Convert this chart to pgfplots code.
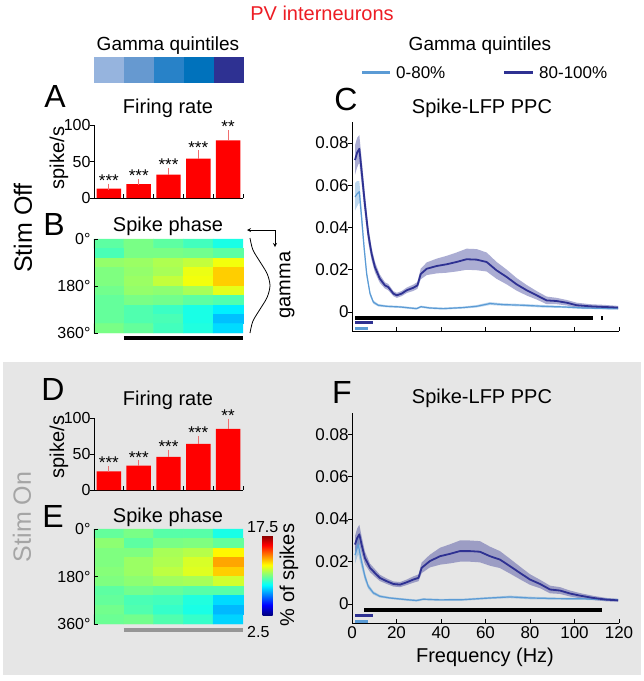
\documentclass[border=0pt]{standalone}
\usepackage{pgfplots}
\pgfplotsset{compat=1.18}
\usepackage{pgfplotstable}
\usepackage{fontspec}
\setmainfont{Liberation Sans}
\newcommand{\fs}[1]{\fontsize{#1}{#1}\selectfont}

\definecolor{darkb}{RGB}{46,49,146}
\definecolor{lightb}{RGB}{91,155,213}
\definecolor{q1}{RGB}{150,180,222}
\definecolor{q2}{RGB}{102,153,208}
\definecolor{q3}{RGB}{40,130,200}
\definecolor{q4}{RGB}{0,114,188}
\definecolor{q5}{RGB}{46,49,146}
\definecolor{pvred}{RGB}{237,28,36}
\definecolor{bgray}{RGB}{230,230,230}
\definecolor{errred}{RGB}{240,110,110}
\definecolor{sigray}{RGB}{150,150,150}
\definecolor{ongray}{RGB}{165,165,165}

\pgfplotstableread{
f v e
1.35 0.072 0.007
2.3 0.0755 0.007
3.3 0.0773 0.0065
4.3 0.067 0.006
5.8 0.051 0.005
7.3 0.037 0.004
8.8 0.0276 0.003
10.3 0.0213 0.0025
12.5 0.0158 0.002
14.8 0.0126 0.0015
16.3 0.0118 0.0015
18.6 0.0087 0.0012
20.1 0.0079 0.0012
22.3 0.0087 0.0012
24.6 0.0103 0.0013
27.6 0.0115 0.0015
29.4 0.0126 0.0016
30.9 0.018 0.0025
33.6 0.0205 0.003
38.1 0.0218 0.0035
42.5 0.0226 0.004
47.0 0.0237 0.0045
51.5 0.025 0.005
56.0 0.0248 0.005
60.5 0.0237 0.0045
65 0.0197 0.004
69.5 0.0166 0.0035
74 0.0131 0.003
78.5 0.0103 0.0025
83 0.0079 0.002
87.5 0.0055 0.0018
92 0.0052 0.0015
96.5 0.0044 0.0013
101 0.0032 0.0012
107 0.0027 0.001
113 0.0024 0.001
119.6 0.0021 0.0008
}\cdark

\pgfplotstableread{
f v e
1.35 0.0545 0.0065
2.3 0.056 0.006
3.3 0.057 0.005
4.3 0.045 0.004
5.4 0.031 0.003
6.6 0.018 0.002
8.1 0.0087 0.0012
9.6 0.0047 0.0008
11.8 0.0032 0.0006
15.6 0.0027 0.0005
21.6 0.0024 0.0005
29 0.0016 0.0005
31 0.0025 0.0005
33 0.0022 0.0005
35 0.0019 0.0005
41 0.0016 0.0005
50 0.0021 0.0005
56 0.0027 0.0006
62 0.0040 0.0007
68 0.0035 0.0006
77 0.0032 0.0006
86 0.0027 0.0006
95 0.0024 0.0005
104 0.0019 0.0005
119.6 0.0016 0.0005
}\clight

\pgfplotstableread{
f v e
1.35 0.028 0.004
2.3 0.031 0.0045
3.3 0.0328 0.0045
4.3 0.028 0.004
5.8 0.0217 0.003
8.1 0.017 0.002
10.3 0.0146 0.0018
12.5 0.0123 0.0015
15.6 0.0107 0.0013
18.6 0.0094 0.0012
21.6 0.0091 0.0012
24.6 0.0102 0.0013
27.6 0.0115 0.0015
29.9 0.0123 0.0016
31.3 0.017 0.0025
35 0.0202 0.003
39.6 0.0225 0.004
44 0.0236 0.0045
48.5 0.0249 0.005
53 0.0249 0.005
57.5 0.0246 0.005
62 0.0225 0.0045
66.5 0.0209 0.004
71 0.0178 0.0035
75.5 0.0146 0.003
80 0.0115 0.0025
84.5 0.0094 0.002
89 0.0068 0.0018
93.5 0.0063 0.0016
98 0.0049 0.0014
102.5 0.0039 0.0012
108.5 0.0028 0.001
114.5 0.002 0.0008
119.6 0.0017 0.0007
}\fdark

\pgfplotstableread{
f v e
1.35 0.023 0.004
2.8 0.028 0.0045
4.3 0.020 0.003
5.8 0.013 0.002
7.3 0.0083 0.0012
9.6 0.0052 0.0008
12.5 0.0036 0.0006
17 0.0028 0.0005
24.6 0.002 0.0005
29 0.0016 0.0005
32 0.0022 0.0005
39.6 0.0019 0.0005
50 0.002 0.0005
62 0.0028 0.0005
71 0.0033 0.0006
80 0.0028 0.0006
92 0.0025 0.0005
104 0.0024 0.0005
119.6 0.0019 0.0005
}\flight

% band polygons: upper edge forward, lower edge backward
\newcommand{\mkband}[3]{%
  \pgfplotstablesort[sort key=f, sort cmp=float >]{#3}{#1}%
  \pgfplotstablesort[sort key=f, sort cmp=float <]{#2}{#1}%
  \pgfplotstablecreatecol[expr={\thisrow{v}+\thisrow{e}}]{b}{#2}%
  \pgfplotstablecreatecol[expr={\thisrow{v}-\thisrow{e}}]{b}{#3}%
  \pgfplotstablevertcat{#2}{#3}}
\mkband{\cdark}{\cdarkband}{\cdarkrev}
\mkband{\clight}{\clightband}{\clightrev}
\mkband{\fdark}{\fdarkband}{\fdarkrev}
\mkband{\flight}{\flightband}{\flightrev}

\pgfplotstableread{
x y c
1 18 9.5
2 18 9.9
3 18 9.5
4 18 9.1
5 18 8.5
1 54 9.2
2 54 9.9
3 54 9.9
4 54 9.8
5 54 9.5
1 90 10.3
2 90 10.4
3 90 10.7
4 90 11.0
5 90 11.7
1 126 10.0
2 126 10.3
3 126 10.6
4 126 11.6
5 126 12.6
1 162 10.0
2 162 10.4
3 162 11.0
4 162 11.7
5 162 12.6
1 198 9.8
2 198 10.3
3 198 10.2
4 198 10.6
5 198 11.5
1 234 9.6
2 234 9.9
3 234 9.8
4 234 9.5
5 234 9.3
1 270 9.6
2 270 9.3
3 270 9.0
4 270 8.5
5 270 7.9
1 306 9.6
2 306 9.3
3 306 9.2
4 306 8.5
5 306 7.2
1 342 9.9
2 342 9.6
3 342 9.1
4 342 8.6
5 342 7.6
}\heatB

\pgfplotstableread{
x y c
1 18 9.6
2 18 9.9
3 18 9.4
4 18 9.4
5 18 8.5
1 54 10.2
2 54 9.5
3 54 9.9
4 54 10.0
5 54 9.6
1 90 10.0
2 90 10.0
3 90 10.6
4 90 10.8
5 90 12.0
1 126 10.0
2 126 10.4
3 126 10.7
4 126 11.3
5 126 13.2
1 162 10.1
2 162 10.4
3 162 10.9
4 162 11.4
5 162 12.6
1 198 10.0
2 198 10.2
3 198 10.5
4 198 10.6
5 198 11.2
1 234 9.5
2 234 9.8
3 234 9.6
4 234 9.4
5 234 9.4
1 270 9.6
2 270 9.2
3 270 9.1
4 270 8.6
5 270 7.6
1 306 9.8
2 306 9.3
3 306 8.9
4 306 8.5
5 306 7.1
1 342 9.7
2 342 9.8
3 342 9.3
4 342 8.9
5 342 7.5
}\heatE

\pgfplotsset{
  every axis/.append style={scale only axis, font=\fs{16},
    /pgf/number format/assume math mode=true, major tick length=4pt,
    tick style={black, line width=0.8pt}},
  barax/.style={xmin=0.5, xmax=5.5, ymin=0, ymax=100, width=149pt, height=73pt,
    axis x line=bottom, axis y line=left,
    x axis line style={-, line width=0.8pt}, y axis line style={-, line width=0.8pt},
    xtick={1.5,2.5,3.5,4.5,5.5}, xticklabels={}, ytick={0,50,100},
    tick align=inside, major y tick style={xshift=-4pt}, clip=false,
    yticklabel style={font=\fs{16}}},
  heatax/.style={xmin=0.5, xmax=5.5, ymin=0, ymax=360, y dir=reverse,
    axis x line=none, axis y line=left, y axis line style={-, line width=0.8pt},
    ytick={0,180,360}, yticklabels={0°,180°,360°}, tick align=inside,
    axis on top, colormap/jet, point meta min=2.5, point meta max=17.5,
    clip=false, width=149pt, yticklabel style={font=\fs{16}}},
  ppcax/.style={xmin=0, xmax=120, ymin=-0.009, ymax=0.09, width=267pt,
    axis x line=bottom, axis y line=left, scaled y ticks=false, scaled x ticks=false,
    x axis line style={-, line width=0.8pt}, y axis line style={-, line width=0.8pt},
    xtick={0,20,...,120}, ytick={0,0.02,0.04,0.06,0.08},
    yticklabels={0,0.02,0.04,0.06,0.08}, tick align=inside,
    major y tick style={xshift=-4pt},
    ticklabel style={font=\fs{17}}},
  errstyle/.style={ybar, bar width=0.82, fill=red, draw=none,
    error bars/.cd, y dir=plus, y explicit,
    error bar style={errred, line width=0.9pt},
    error mark options={errred, mark size=3pt, line width=0.9pt}},
}

\begin{document}
\begin{tikzpicture}
\path (0,0) rectangle (644pt,-681pt);
\fill[bgray] (3pt,-362pt) rectangle (641pt,-675pt);

% header
\node[anchor=base, font=\fs{20}, text=pvred] at (322pt,-20pt) {PV interneurons};
\node[anchor=base, font=\fs{19}] at (168pt,-50pt) {Gamma quintiles};
\node[anchor=base, font=\fs{19}] at (480pt,-50pt) {Gamma quintiles};
\fill[q1] (94pt,-57pt) rectangle (124pt,-83pt);
\fill[q2] (124pt,-57pt) rectangle (154pt,-83pt);
\fill[q3] (154pt,-57pt) rectangle (184pt,-83pt);
\fill[q4] (184pt,-57pt) rectangle (214pt,-83pt);
\fill[q5] (214pt,-57pt) rectangle (244pt,-83pt);
\draw[lightb, line width=3pt] (362pt,-72pt) -- (390pt,-72pt);
\node[anchor=base west, font=\fs{17}, inner sep=0pt] at (396pt,-78pt) {0-80\%};
\draw[darkb, line width=3pt] (504pt,-72pt) -- (533pt,-72pt);
\node[anchor=base west, font=\fs{17}, inner sep=0pt] at (539pt,-78pt) {80-100\%};

% panel letters and titles
\node[anchor=base, font=\fs{32}] at (55pt,-107pt) {A};
\node[anchor=base, font=\fs{20}] at (168pt,-113pt) {Firing rate};
\node[anchor=base, font=\fs{32}] at (54pt,-235pt) {B};
\node[anchor=base, font=\fs{20}] at (168pt,-231pt) {Spike phase};
\node[anchor=base, font=\fs{32}] at (346pt,-110pt) {C};
\node[anchor=base, font=\fs{20}] at (482pt,-113pt) {Spike-LFP PPC};
\node[anchor=base, font=\fs{32}] at (53pt,-400pt) {D};
\node[anchor=base, font=\fs{20}] at (168pt,-405pt) {Firing rate};
\node[anchor=base, font=\fs{32}] at (53pt,-527pt) {E};
\node[anchor=base, font=\fs{20}] at (168pt,-522pt) {Spike phase};
\node[anchor=base, font=\fs{32}] at (342pt,-403pt) {F};
\node[anchor=base, font=\fs{20}] at (482pt,-403pt) {Spike-LFP PPC};

\node[rotate=90, font=\fs{20}] at (59pt,-158pt) {spike/s};
\node[rotate=90, font=\fs{20}] at (59pt,-447pt) {spike/s};
\node[rotate=90, font=\fs{25}] at (23pt,-228pt) {Stim Off};
\node[rotate=90, font=\fs{25}, text=ongray] at (22pt,-517pt) {Stim On};
\node[rotate=90, font=\fs{20}] at (287pt,-285pt) {gamma};
\node[rotate=90, font=\fs{20}] at (289pt,-575pt) {\% of spikes};
\node[anchor=base west, font=\fs{16}, inner sep=0pt] at (247pt,-532pt) {17.5};
\node[anchor=base west, font=\fs{16}, inner sep=0pt] at (247pt,-637pt) {2.5};
\node[anchor=base, font=\fs{20}] at (485pt,-662pt) {Frequency (Hz)};

% gamma cycle illustration
\draw[black, line width=0.8pt] plot[smooth] coordinates {(250pt,-238pt) (252.9pt,-249.9pt) (260pt,-261.75pt) (267.1pt,-273.6pt) (270pt,-285.5pt) (267.1pt,-297.4pt) (260pt,-309.25pt) (252.9pt,-321.1pt) (250pt,-333pt)};
\draw[black, line width=0.8pt, <->, >=stealth] (247pt,-230pt) -- (275pt,-230pt) -- (275pt,-247pt);

% A
\begin{axis}[barax, at={(94pt,-198pt)}, anchor=south west]
\addplot[errstyle] coordinates {(1,13) +- (0,2.5) (2,19) +- (0,3) (3,32) +- (0,5) (4,54) +- (0,7) (5,79) +- (0,10)};
\node[anchor=base, font=\fs{17}] at (axis cs:1,16) {***};
\node[anchor=base, font=\fs{17}] at (axis cs:2,22.5) {***};
\node[anchor=base, font=\fs{17}] at (axis cs:3,37.5) {***};
\node[anchor=base, font=\fs{17}] at (axis cs:4,61.5) {***};
\node[anchor=base, font=\fs{17}] at (axis cs:5,89.5) {**};
\end{axis}

% B
\begin{axis}[heatax, at={(94pt,-333pt)}, anchor=south west, height=94pt]
\addplot[matrix plot*, mesh/cols=5, point meta=explicit] table[x=x, y=y, meta=c] {\heatB};
\addplot[black, line width=4pt] coordinates {(1.5,378) (5.5,378)};
\end{axis}

% C
\begin{axis}[ppcax, at={(352pt,-331pt)}, anchor=south west, height=209pt, xticklabels={}]
\addplot[fill=lightb, fill opacity=0.4, draw=none] table[x=f, y=b] {\clightband} -- cycle;
\addplot[fill=darkb, fill opacity=0.4, draw=none] table[x=f, y=b] {\cdarkband} -- cycle;
\addplot[lightb, line width=1.2pt, line join=round] table[x=f, y=v] {\clight};
\addplot[darkb, line width=1.8pt, line join=round] table[x=f, y=v] {\cdark};
\addplot[black, line width=4pt] coordinates {(1.35,-0.0028) (108.5,-0.0028)};
\addplot[black, line width=4pt] coordinates {(111.8,-0.0028) (113,-0.0028)};
\addplot[darkb, line width=3pt] coordinates {(1.35,-0.0052) (9.3,-0.0052)};
\addplot[lightb, line width=3pt] coordinates {(1.35,-0.008) (7.3,-0.008)};
\end{axis}

% D
\begin{axis}[barax, at={(94pt,-490pt)}, anchor=south west, height=72pt]
\addplot[errstyle] coordinates {(1,26) +- (0,3) (2,34) +- (0,3) (3,46) +- (0,6) (4,64) +- (0,7) (5,85) +- (0,10)};
\node[anchor=base, font=\fs{17}] at (axis cs:1,29.5) {***};
\node[anchor=base, font=\fs{17}] at (axis cs:2,37.5) {***};
\node[anchor=base, font=\fs{17}] at (axis cs:3,52.5) {***};
\node[anchor=base, font=\fs{17}] at (axis cs:4,71.5) {***};
\node[anchor=base, font=\fs{17}] at (axis cs:5,95.5) {**};
\end{axis}

% E
\begin{axis}[heatax, at={(94pt,-624pt)}, anchor=south west, height=95pt,
  colorbar, colorbar style={at={(parent axis.north east)}, anchor=north west,
    xshift=11pt, yshift=-6pt, width=10pt, height=80pt, ytick=\empty, xtick=\empty,
    axis line style={draw=none}}]
\addplot[matrix plot*, mesh/cols=5, point meta=explicit] table[x=x, y=y, meta=c] {\heatE};
\addplot[sigray, line width=4pt] coordinates {(1.5,383) (5.5,383)};
\end{axis}

% F
\begin{axis}[ppcax, at={(352pt,-623pt)}, anchor=south west, height=210pt,
  xticklabels={0,20,40,60,80,100,120}]
\addplot[fill=lightb, fill opacity=0.4, draw=none] table[x=f, y=b] {\flightband} -- cycle;
\addplot[fill=darkb, fill opacity=0.4, draw=none] table[x=f, y=b] {\fdarkband} -- cycle;
\addplot[lightb, line width=1.2pt, line join=round] table[x=f, y=v] {\flight};
\addplot[darkb, line width=1.8pt, line join=round] table[x=f, y=v] {\fdark};
\addplot[black, line width=4pt] coordinates {(5.4,-0.0028) (112.2,-0.0028)};
\addplot[darkb, line width=3pt] coordinates {(1.35,-0.0055) (9.3,-0.0055)};
\addplot[lightb, line width=3pt] coordinates {(1.35,-0.0082) (7.3,-0.0082)};
\end{axis}
\end{tikzpicture}
\end{document}
